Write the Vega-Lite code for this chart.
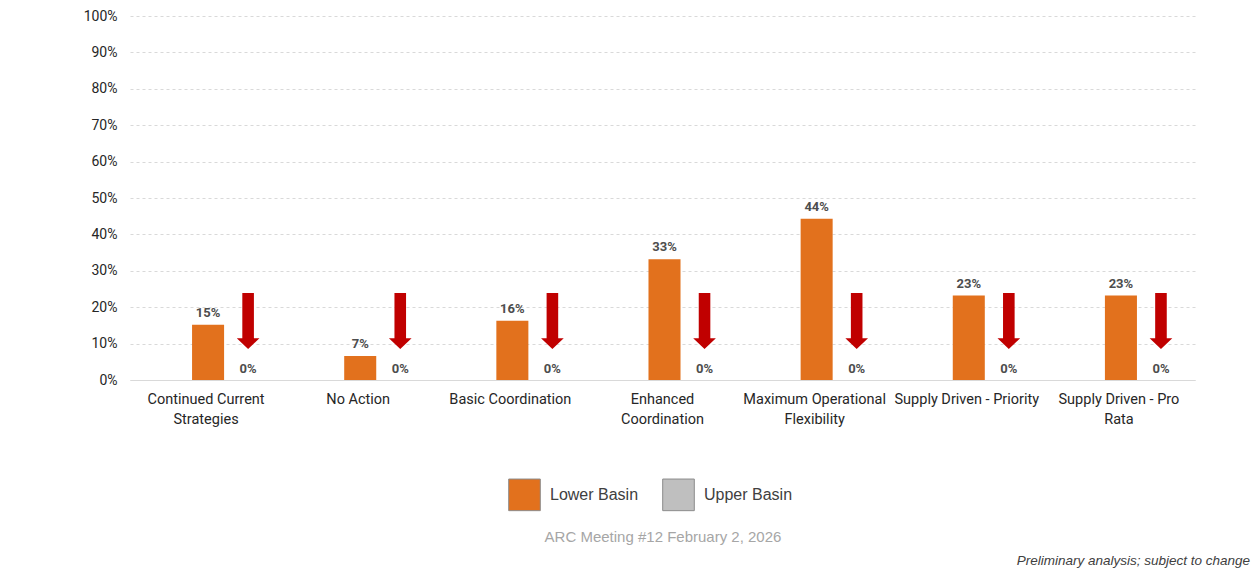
{
  "$schema": "https://vega.github.io/schema/vega-lite/v6.json",
  "width": 1065,
  "height": 364,
  "autosize": {"type": "none"},
  "padding": {"left": 130, "top": 16, "right": 62, "bottom": 193},
  "background": "white",
  "config": {"view": {"stroke": null}, "font": "Roboto"},
  "title": {
    "text": "Preliminary analysis; subject to change",
    "orient": "bottom",
    "anchor": "end",
    "frame": "group",
    "dx": 55,
    "offset": 9,
    "font": "Liberation Sans",
    "fontSize": 13.5,
    "fontStyle": "italic",
    "fontWeight": "normal",
    "color": "#404040"
  },
  "data": {
    "values": [
      {"category": "Continued Current Strategies", "series": "Lower Basin", "value": 0.152},
      {"category": "Continued Current Strategies", "series": "Upper Basin", "value": 0},
      {"category": "No Action", "series": "Lower Basin", "value": 0.066},
      {"category": "No Action", "series": "Upper Basin", "value": 0},
      {"category": "Basic Coordination", "series": "Lower Basin", "value": 0.163},
      {"category": "Basic Coordination", "series": "Upper Basin", "value": 0},
      {"category": "Enhanced Coordination", "series": "Lower Basin", "value": 0.332},
      {"category": "Enhanced Coordination", "series": "Upper Basin", "value": 0},
      {"category": "Maximum Operational Flexibility", "series": "Lower Basin", "value": 0.443},
      {"category": "Maximum Operational Flexibility", "series": "Upper Basin", "value": 0},
      {"category": "Supply Driven - Priority", "series": "Lower Basin", "value": 0.232},
      {"category": "Supply Driven - Priority", "series": "Upper Basin", "value": 0},
      {"category": "Supply Driven - Pro Rata", "series": "Lower Basin", "value": 0.232},
      {"category": "Supply Driven - Pro Rata", "series": "Upper Basin", "value": 0}
    ]
  },
  "encoding": {
    "x": {
      "field": "category",
      "type": "nominal",
      "sort": null,
      "scale": {"paddingInner": 0, "paddingOuter": 0},
      "axis": {
        "title": "ARC Meeting #12 February 2, 2026",
        "titleFont": "Liberation Sans",
        "titleFontSize": 15,
        "titleFontWeight": "normal",
        "titleColor": "#A6A6A6",
        "titlePadding": 104,
        "labelAngle": 0,
        "labelFontSize": 14.5,
        "labelColor": "#262626",
        "labelPadding": 12,
        "labelLineHeight": 20,
        "labelLimit": 200,
        "ticks": false,
        "domainColor": "#D9D9D9",
        "labelExpr": "datum.label == 'Continued Current Strategies' ? ['Continued Current', 'Strategies'] : datum.label == 'Enhanced Coordination' ? ['Enhanced', 'Coordination'] : datum.label == 'Maximum Operational Flexibility' ? ['Maximum Operational', 'Flexibility'] : datum.label == 'Supply Driven - Pro Rata' ? ['Supply Driven - Pro', 'Rata'] : datum.label"
      }
    },
    "xOffset": {
      "field": "series",
      "type": "nominal",
      "scale": {"domain": ["Lower Basin", "Upper Basin"], "paddingInner": 0.2, "paddingOuter": 1, "align": 0.775}
    },
    "y": {
      "field": "value",
      "type": "quantitative",
      "title": null,
      "scale": {"domain": [0, 1], "nice": false},
      "axis": {
        "values": [0, 0.1, 0.2, 0.3, 0.4, 0.5, 0.6, 0.7, 0.8, 0.9, 1],
        "format": ".0%",
        "labelOverlap": false,
        "domain": false,
        "ticks": false,
        "labelFontSize": 14,
        "labelColor": "#262626",
        "labelPadding": 13,
        "gridColor": "#D9D9D9",
        "gridDash": [3, 3]
      }
    }
  },
  "layer": [
    {
      "mark": {"type": "bar"},
      "encoding": {
        "color": {
          "field": "series",
          "type": "nominal",
          "scale": {"domain": ["Lower Basin", "Upper Basin"], "range": ["#E2711D", "#BFBFBF"]},
          "legend": {
            "orient": "none",
            "legendX": 378,
            "legendY": 462,
            "direction": "horizontal",
            "title": null,
            "symbolType": "square",
            "symbolSize": 1000,
            "symbolStrokeWidth": 1,
            "symbolStrokeColor": "#8C8C8C",
            "symbolOpacity": 1,
            "labelFont": "Liberation Sans",
            "labelFontSize": 16,
            "labelColor": "#404040",
            "labelOffset": 9,
            "columnPadding": 21
          }
        }
      }
    },
    {
      "transform": [{"filter": "datum.series == 'Lower Basin'"}],
      "mark": {"type": "text", "dy": -8, "baseline": "alphabetic", "fontSize": 13, "fontWeight": "bold", "color": "#4D4D4D"},
      "encoding": {
        "text": {"field": "value", "type": "quantitative", "format": ".0%"}
      }
    },
    {
      "transform": [{"filter": "datum.series == 'Upper Basin'"}],
      "mark": {
        "type": "point",
        "shape": "M-0.207,-3.107L0.207,-3.107L0.207,-1.489L0.405,-1.489L0,-1.107L-0.405,-1.489L-0.207,-1.489Z",
        "size": 3136,
        "filled": true,
        "opacity": 1,
        "color": "#C00000",
        "strokeWidth": 0
      }
    },
    {
      "transform": [{"filter": "datum.series == 'Upper Basin'"}],
      "mark": {"type": "text", "dy": -7, "baseline": "alphabetic", "fontSize": 13, "fontWeight": "bold", "color": "#4D4D4D"},
      "encoding": {
        "text": {"field": "value", "type": "quantitative", "format": ".0%"}
      }
    }
  ]
}
